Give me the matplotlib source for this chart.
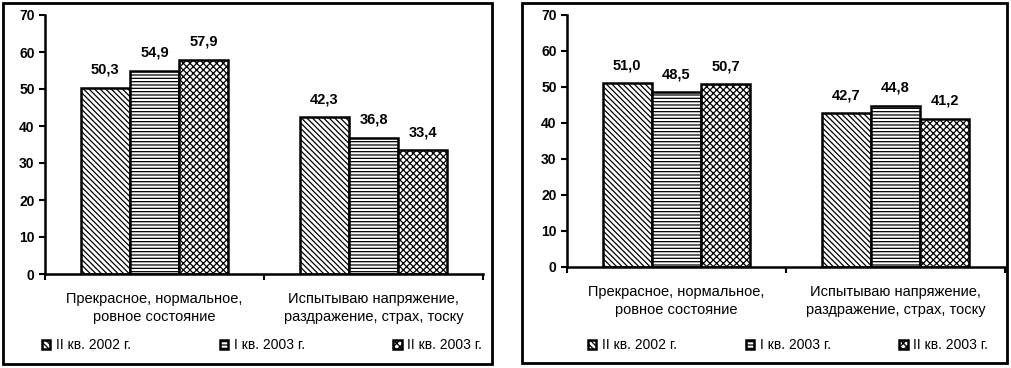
import numpy as np
import matplotlib.pyplot as plt
from matplotlib.patches import Rectangle

plt.rcParams['font.family'] = ['Liberation Sans', 'DejaVu Sans']
plt.rcParams['hatch.linewidth'] = 0.9

# Данные
categories = ["Прекрасное, нормальное,\nровное состояние",
              "Испытываю напряжение,\nраздражение, страх, тоску"]
series_names = ["II кв. 2002 г.", "I кв. 2003 г.", "II кв. 2003 г."]
left_values = [[50.3, 42.3], [54.9, 36.8], [57.9, 33.4]]
right_values = [[51.0, 42.7], [48.5, 44.8], [50.7, 41.2]]
hatches = ['\\\\\\\\\\\\', '-----', 'xxxxx']

fig = plt.figure(figsize=(10.11, 3.68), dpi=100)
W, H = 1011, 368


def px(x0, y0, x1, y1):
    # boîte en pixels -> fraction de figure
    return [x0 / W, 1 - y1 / H, (x1 - x0) / W, (y1 - y0) / H]


def panel(axbox, frame, values, legbox):
    ax = fig.add_axes(px(*axbox))
    x = np.arange(len(categories))
    w = 0.225
    bars = []
    for i, vals in enumerate(values):
        b = ax.bar(x + (i - 1) * w, vals, w, facecolor='white', edgecolor='black',
                   linewidth=1.8, hatch=hatches[i], label=series_names[i])
        ax.bar_label(b, labels=[f"{v:.1f}".replace('.', ',') for v in vals],
                     padding=8, fontsize=10.5, fontweight='bold')
        bars.append(b)
    ax.set_xlim(-0.5, 1.5)
    ax.set_ylim(0, 70)
    ax.set_yticks(range(0, 71, 10))
    ax.set_xticks(x)
    ax.set_xticklabels(categories, fontsize=10.5, linespacing=1.4)
    ax.set_xticks([-0.5, 0.5, 1.5], minor=True)
    ax.tick_params(axis='x', which='major', length=0, pad=13)
    ax.tick_params(axis='x', which='minor', length=4, width=1.5, direction='out')
    ax.tick_params(axis='y', length=4, width=1.5, labelsize=10)
    for t in ax.get_yticklabels():
        t.set_fontweight('bold')
    for s in ['top', 'right']:
        ax.spines[s].set_visible(False)
    for s in ['left', 'bottom']:
        ax.spines[s].set_linewidth(1.8)
    # cadre du panneau
    fig.patches.append(Rectangle((frame[0] / W, 1 - frame[3] / H),
                                 (frame[2] - frame[0]) / W, (frame[3] - frame[1]) / H,
                                 transform=fig.transFigure, fill=False,
                                 edgecolor='black', linewidth=2))
    fig.legend(handles=bars, loc='lower left', bbox_to_anchor=px(*legbox),
               mode='expand', ncol=3, frameon=False, fontsize=10,
               handlelength=0.6, handleheight=0.6, handletextpad=0.4,
               borderaxespad=0, borderpad=0)
    return ax


panel((45, 15, 483, 274), (3, 3, 492, 364), left_values, (42, 334, 482, 352))
panel((567, 15, 1005, 267), (522, 3, 1007, 363), right_values, (588, 334, 988, 352))

plt.savefig('out.png', dpi=100)
